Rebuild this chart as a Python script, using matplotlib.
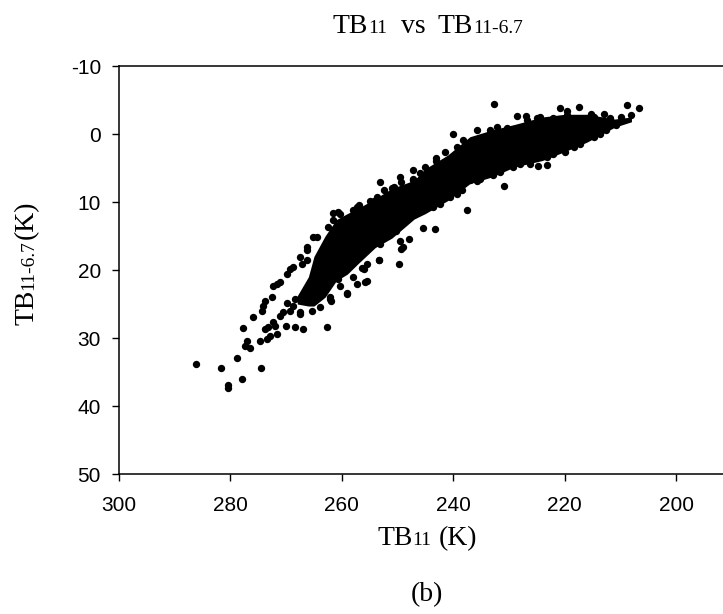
import matplotlib
matplotlib.use('Agg')
import matplotlib.pyplot as plt

plt.rcParams['axes.unicode_minus'] = False

# dense core of the cloud: outline (TB11, upper / lower TB11-6.7)
core_x = [268, 266, 265, 263, 261, 259, 257, 254, 251, 247, 245, 241, 237, 233, 229, 224, 220, 216, 211, 208]
core_top = [23.8, 21.0, 18.0, 15.0, 12.6, 11.7, 10.9, 9.5, 8.0, 6.8, 5.1, 3.1, 0.4, -0.6, -1.4, -2.5, -2.9, -2.9, -2.2, -2.5]
core_low = [25.0, 25.3, 25.3, 24, 21.6, 20.6, 19, 16.7, 15.3, 12.5, 11.7, 9.8, 7.3, 6.3, 4.85, 3.9, 2.6, 1.2, -1.0, -1.8]

# scattered points of the warm tail
tail_x = [286.1, 281.6, 280.5, 280.4, 277.9, 274.5, 278.9, 277.8, 277.1, 277.4, 276.5, 276.0, 274.4, 274.1,
          274.7, 273.5, 272.9, 273.8, 273.2, 271.7, 272.3, 272.0, 271.1, 270.5, 270.0, 268.4, 266.9, 262.7,
          267.5, 269.3, 273.8, 272.6, 272.3, 271.1, 269.3, 266.3, 267.2, 266.3, 261.9, 259.1, 256.4, 255.8,
          257.3, 253.3, 249.8, 249.3, 247.9, 249.6, 265.4, 268.4, 262.1, 260.6, 259.1]
tail_y = [33.85, 34.4, 36.9, 37.3, 36.1, 34.4, 33.0, 28.6, 30.4, 31.2, 31.5, 26.9, 26.0, 25.3,
          30.4, 30.2, 29.7, 28.7, 28.4, 29.4, 27.7, 28.2, 26.7, 26.2, 28.2, 28.4, 28.7, 28.4,
          26.4, 26.0, 24.5, 24.0, 22.4, 21.8, 19.8, 17.1, 19.1, 18.6, 24.5, 23.4, 19.7, 21.8,
          22.05, 18.6, 19.1, 16.9, 15.4, 15.7, 26.0, 24.3, 24.3, 21.3, 23.5]

# points along the upper (cold side) edge
top_x = [265.1, 262.4, 261.5, 260.6, 257.3, 254.3, 253.1, 251.0, 250.7, 247.2, 246.0, 245.0, 240.0, 239.4,
         237.0, 235.8, 233.4, 232.7, 230.4, 228.5, 226.9, 226.8, 224.4, 222.0, 220.8, 219.6, 217.4, 215.3,
         213.0, 214.2, 211.8, 210.7, 209.8, 208.0, 208.8, 206.7, 243.0, 241.5,
         264.5, 261.5, 260.3, 257.9, 257.0, 254.9, 253.7, 252.5, 249.3, 247.2, 266.3, 267.5, 268.7, 269.9,
         271.7, 249.6, 247.2, 243.0, 238.2, 232.2, 225.0, 219.6, 214.8]
top_y = [15.2, 13.7, 11.6, 11.5, 10.75, 9.8, 7.1, 8.0, 7.8, 6.6, 5.8, 4.9, -0.07, 1.9,
         1.4, -0.56, -0.66, -4.35, -0.95, -2.6, -2.6, -2.0, -2.5, -2.3, -3.85, -3.4, -4.0, -3.0,
         -3.0, -1.8, -2.3, -1.3, -2.5, -2.8, -4.25, -3.8, 3.5, 2.6,
         15.2, 12.7, 11.7, 11.2, 10.5, 9.8, 9.3, 8.3, 7.05, 6.7, 16.65, 18.1, 19.6, 20.6,
         22.05, 6.3, 5.3, 3.9, 0.9, -1.05, -2.3, -2.8, -2.5]

# points along the lower edge
low_x = [252.5, 250.2, 247.2, 243.6, 240.6, 238.5, 237.0, 234.0, 229.2, 228.0, 223.2, 222.0, 219.9, 217.2,
         214.8, 212.5, 230.9, 237.5, 224.7, 223.2, 235.8, 232.8, 245.4, 243.3, 249.0, 253.4, 256.1, 255.5,
         253.1, 255.5, 257.9, 260.3, 262.1, 263.9, 267.5, 268.7, 269.9,
         248.4, 242.4, 239.4, 235.2, 231.6, 226.2, 218.4, 213.6]
low_y = [15.2, 14.2, 11.7, 10.75, 9.3, 8.3, 6.8, 5.8, 4.85, 4.35, 3.4, 2.9, 2.6, 1.4,
         0.4, -0.56, 7.7, 11.2, 4.7, 4.6, 6.9, 6.1, 13.8, 14.0, 16.6, 18.6, 19.8, 21.6,
         16.15, 19.1, 21.1, 22.3, 24.0, 25.5, 26.2, 25.25, 24.8,
         12.7, 10.25, 8.8, 6.6, 5.6, 4.35, 1.9, -0.07]

x_ticks = [300, 280, 260, 240, 220, 200]
y_ticks = [-10, 0, 10, 20, 30, 40, 50]

W, H = 723, 614
fig = plt.figure(figsize=(W / 100, H / 100), dpi=100)
ax = fig.add_axes([119 / W, 1 - 474 / H, (W - 119) / W, (474 - 66) / H])

ax.fill_between(core_x, core_top, core_low, color='black', lw=0)
for xs, ys in [(tail_x, tail_y), (top_x, top_y), (low_x, low_y)]:
    ax.scatter(xs, ys, s=28, color='black', lw=0)

ax.set_xlim(300, 300 - (W - 119) / 5.57)
ax.set_ylim(50, -10)
ax.set_xticks(x_ticks)
ax.set_yticks(y_ticks)
ax.spines['right'].set_visible(False)
for sp in ['left', 'bottom', 'top']:
    ax.spines[sp].set_linewidth(1.1)
ax.tick_params(axis='x', direction='out', length=5, width=1, pad=11)
ax.tick_params(axis='y', direction='out', length=5, width=1, pad=8)
for lab in ax.get_xticklabels() + ax.get_yticklabels():
    lab.set_fontfamily('Liberation Sans')
    lab.set_fontsize(15)

# serif labels with small "subscript" parts sitting on the baseline
serif = 'Liberation Serif'
renderer = fig.canvas.get_renderer()


def chain_text(cx, cy, pieces, vertical=False):
    # cx, cy: centre along the text and baseline position, in image pixels (top-left origin)
    # pieces: (text, size, gap before in px)
    parts = []
    total = 0
    for s, size, gap in pieces:
        t = fig.text(0, 0, s, size=size, family=serif,
                     rotation=90 if vertical else 0, rotation_mode='anchor',
                     ha='left', va='baseline')
        bb = t.get_window_extent(renderer)
        w = bb.height if vertical else bb.width
        parts.append((t, gap, w))
        total += gap + w
    if vertical:
        pos = cy + total / 2
    else:
        pos = cx - total / 2
    for t, gap, w in parts:
        if vertical:
            pos -= gap
            t.set_position((cx / W, 1 - pos / H))
            pos -= w
        else:
            pos += gap
            t.set_position((pos / W, 1 - cy / H))
            pos += w


chain_text(428, 33, [('TB', 20, 0), ('11', 14, 0), ('vs', 20, 14), ('TB', 20, 12), ('11-6.7', 14, 0)])
chain_text(427, 545, [('TB', 20, 0), ('11', 14, 0), ('(K)', 20, 7)])
chain_text(33, 263, [('TB', 20, 0), ('11-6.7', 14, 0), ('(K)', 20, 1)], vertical=True)
fig.text(427 / W, 1 - 595 / H, '(b)', size=20, family=serif, ha='center', va='center')

fig.savefig('out.png', dpi=100)
